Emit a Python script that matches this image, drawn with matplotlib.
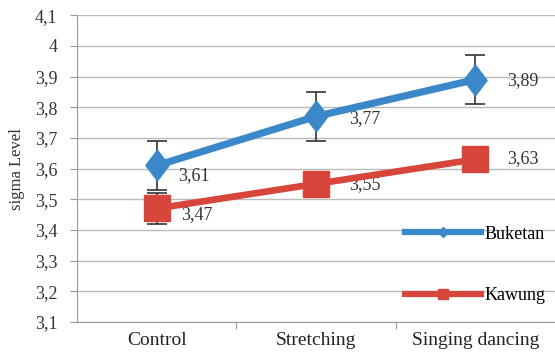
import matplotlib
matplotlib.use("Agg")
import matplotlib.pyplot as plt
from matplotlib.lines import Line2D

categories = ["Control", "Stretching", "Singing dancing"]
buketan = [3.61, 3.77, 3.89]
buketan_err = [0.08, 0.08, 0.08]
kawung = [3.47, 3.55, 3.63]
kawung_err = [0.05, 0.04, 0.04]
yticks = [3.1, 3.2, 3.3, 3.4, 3.5, 3.6, 3.7, 3.8, 3.9, 4.0, 4.1]

blue = "#3A88C9"
red = "#D8453B"
txt = "#333333"
plt.rcParams['font.family'] = ['Liberation Serif', 'DejaVu Serif']

diamond = [(-0.38, 0), (0, 0.5), (0.38, 0), (0, -0.5), (-0.38, 0)]

fig = plt.figure(figsize=(5.55, 3.56), dpi=100)
ax = fig.add_axes([0.139, 0.0955, 0.861, 0.862])
x = list(range(len(categories)))

ax.errorbar(x, buketan, yerr=buketan_err, color=blue, lw=5.2, marker=diamond, ms=22,
            ecolor='#333333', elinewidth=1.2, capsize=7, capthick=1.2, zorder=3)
ax.errorbar(x, kawung, yerr=kawung_err, color=red, lw=4.8, marker='s', ms=19,
            ecolor='#333333', elinewidth=1.2, capsize=7, capthick=1.2, zorder=3)

b_off = [(21, -10), (33, -2), (32, -1)]
k_off = [(24, -6), (33, -1), (32, 1)]
for xi, v, off in zip(x, buketan, b_off):
    ax.annotate(f"{v:.2f}".replace('.', ','), (xi, v), xytext=off, textcoords='offset pixels',
                fontsize=13, va='center', ha='left', color=txt)
for xi, v, off in zip(x, kawung, k_off):
    ax.annotate(f"{v:.2f}".replace('.', ','), (xi, v), xytext=off, textcoords='offset pixels',
                fontsize=13, va='center', ha='left', color=txt)

ax.set_xlim(-0.5, 2.5)
ax.set_ylim(3.1, 4.1)
ax.set_yticks(yticks)
ax.set_yticklabels([f"{t:g}".replace('.', ',') for t in yticks], fontsize=13, color=txt)
ax.set_xticks([0.5, 1.5])
ax.set_xticklabels([])
ax.set_xticks(x, minor=True)
ax.set_xticklabels(categories, minor=True, fontsize=14, color='#222222')
ax.tick_params(axis='x', which='minor', length=0, pad=7)
ax.tick_params(axis='x', which='major', length=5, color='#999999')
ax.tick_params(axis='y', length=5, color='#999999', pad=9)
ax.grid(axis='y', color='#BBBBBB', lw=1)
ax.set_axisbelow(True)
for s in ['top', 'right']:
    ax.spines[s].set_visible(False)
ax.spines['left'].set_color('#999999')
ax.spines['bottom'].set_color('#999999')
ax.set_ylabel("sigma Level", fontsize=12, color=txt, labelpad=7)

h1 = Line2D([], [], color=blue, lw=4.5, marker='D', ms=5)
h2 = Line2D([], [], color=red, lw=4.5, marker='s', ms=7)
ax.legend([h1, h2], ["Buketan", "Kawung"], loc='lower right', bbox_to_anchor=(1.015, 0.006),
          frameon=False, fontsize=13, labelspacing=2.45, handlelength=4.2, handletextpad=0.2)

fig.savefig("out.png", dpi=100)
